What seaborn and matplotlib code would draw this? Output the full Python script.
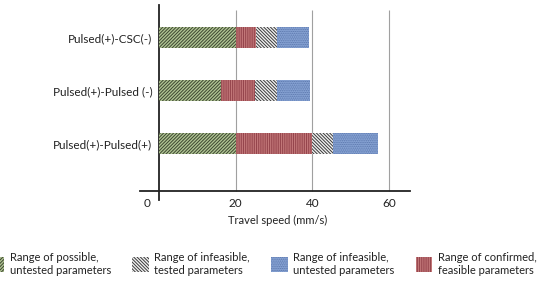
import matplotlib
matplotlib.use("Agg")
import matplotlib.pyplot as plt
import matplotlib.patches as mpatches
import matplotlib.transforms as mtransforms
import numpy as np
import pandas as pd
import seaborn as sns

# ---- data ----
categories = ["Pulsed(+)-CSC(-)", "Pulsed(+)-Pulsed (-)", "Pulsed(+)-Pulsed(+)"]
possible_untested = [20.0, 16.2, 20.0]      # green
confirmed_feasible = [5.3, 8.9, 19.8]       # red
infeasible_tested = [5.4, 5.6, 5.7]         # grey
infeasible_untested = [8.5, 8.7, 11.7]      # blue
xticks = [0, 20, 40, 60]
xlabel = "Travel speed (mm/s)"
legend_labels = ["Range of possible,\nuntested parameters",
                 "Range of infeasible,\ntested parameters",
                 "Range of infeasible,\nuntested parameters",
                 "Range of confirmed,\nfeasible parameters"]

sns.set_style("white")
plt.rcParams['font.family'] = ['Lato', 'DejaVu Sans']
plt.rcParams['hatch.linewidth'] = 0.7

df = pd.DataFrame({
    "cat": categories,
    "green": possible_untested,
    "red": confirmed_feasible,
    "grey": infeasible_tested,
    "blue": infeasible_untested,
})
df["end_green"] = df["green"]
df["end_red"] = df["end_green"] + df["red"]
df["end_grey"] = df["end_red"] + df["grey"]
df["end_blue"] = df["end_grey"] + df["blue"]

styles = {
    "green": dict(face="#b0c494", edge="#3c4630", hatch="/" * 10),
    "red": dict(face="#c97f7f", edge="#94434b", hatch="|" * 9),
    "grey": dict(face="#f0f0f0", edge="#3a3a3a", hatch="\\" * 10),
    "blue": dict(face="#8ca8d8", edge="#5672a8", hatch="." * 9),
}

fig = plt.figure(figsize=(5.4, 2.82), dpi=100)
ax = fig.add_axes([140/540, 1-200/282, 270/540, 195/282])

for key in ["blue", "grey", "red", "green"]:
    st = styles[key]
    sns.barplot(data=df, x="end_" + key, y="cat", orient="h", ax=ax,
                color=st["face"], saturation=1, width=0.4,
                edgecolor=st["edge"], linewidth=0, hatch=st["hatch"], zorder=3)

ybottom = 2.887
ax.set_xlim(-5, 65.5)
ax.set_ylim(3.06, -0.62)
ax.vlines([20, 40, 60], -0.52, ybottom, color="#a0a0a0", lw=0.8, zorder=1)

for s in ["top", "right"]:
    ax.spines[s].set_visible(False)
ax.spines["left"].set_position(("data", 0))
ax.spines["bottom"].set_position(("data", ybottom))
ax.spines["left"].set_linewidth(1.3)
ax.spines["bottom"].set_linewidth(1.3)
ax.spines["left"].set_color("#222222")
ax.spines["bottom"].set_color("#222222")

ax.set_xticks(xticks)
ax.set_xticklabels([str(t) for t in xticks], fontsize=8.5, color="#222222")
ax.tick_params(axis="x", direction="inout", length=6, width=1.0, color="#222222", pad=2)
ax.tick_params(axis="y", direction="out", length=3, width=0.8, color="#222222", pad=2,
               labelsize=8.5, labelcolor="#222222")
ax.set_ylabel("")
ax.set_xlabel(xlabel, fontsize=8, color="#222222")
ax.xaxis.set_label_coords(0.51, -0.075)

lab0 = ax.get_xticklabels()[0]
lab0.set_transform(lab0.get_transform() + mtransforms.ScaledTranslation(-12/100, 0, fig.dpi_scale_trans))

handles = []
for key in ["green", "grey", "blue", "red"]:
    st = styles[key]
    handles.append(mpatches.Patch(facecolor=st["face"], edgecolor=st["edge"],
                                  hatch=st["hatch"], linewidth=0))
fig.legend(handles=handles, labels=legend_labels, ncol=4, loc="center",
           bbox_to_anchor=(262/540, 1-264/282), frameon=False, fontsize=8,
           handlelength=1.5, handleheight=1.7, handletextpad=0.5,
           columnspacing=1.9, labelcolor="#222222")

fig.savefig("out.png", dpi=100)
